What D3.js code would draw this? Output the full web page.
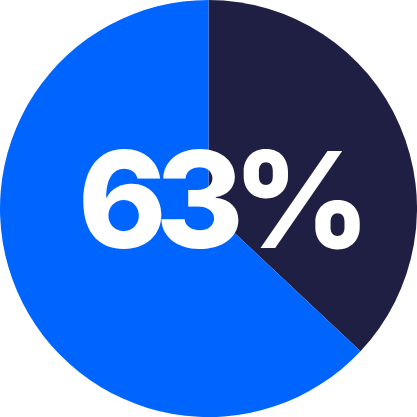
<!DOCTYPE html>
<html>
<head>
<meta charset="utf-8">
<script src="https://cdn.jsdelivr.net/npm/d3@7"></script>
<style>
  html, body { margin: 0; padding: 0; background: #fff; overflow: hidden; }
</style>
</head>
<body>
<div id="main"></div>
<script>
const labels = ['Other', 'Share'];
const values = [37, 63];
const colors = ['#1f1f44', '#0064ff'];
const centerLabel = '63%';

const WIDTH = 417;
const HEIGHT = 417;
const RADIUS = 208.5;

const svg = d3.select('#main').append('svg')
    .attr('width', WIDTH)
    .attr('height', HEIGHT);

const g = svg.append('g')
    .attr('transform', `translate(${WIDTH / 2}, ${HEIGHT / 2})`);

const pie = d3.pie().sort(null).value((d) => d);
const arc = d3.arc().innerRadius(0).outerRadius(RADIUS);
const colorScale = d3.scaleOrdinal().domain(labels).range(colors);

g.selectAll('path')
    .data(pie(values))
    .enter().append('path')
    .attr('d', arc)
    .attr('fill', (d, i) => colorScale(labels[i]));

// centre label, then nudge so its ink box sits where the reference has it
const label = g.append('text')
    .attr('text-anchor', 'start')
    .attr('fill', '#fff')
    .style('font-family', 'Inter, sans-serif')
    .style('font-weight', 800)
    .style('font-size', '134px')
    .style('letter-spacing', '-11px')
    .text(centerLabel);
const box = label.node().getBBox();
// target ink: left edge ~82, baseline ~248
label.attr('x', 78 - WIDTH / 2 - box.x)
    .attr('y', 248 - HEIGHT / 2);
</script>
</body>
</html>
